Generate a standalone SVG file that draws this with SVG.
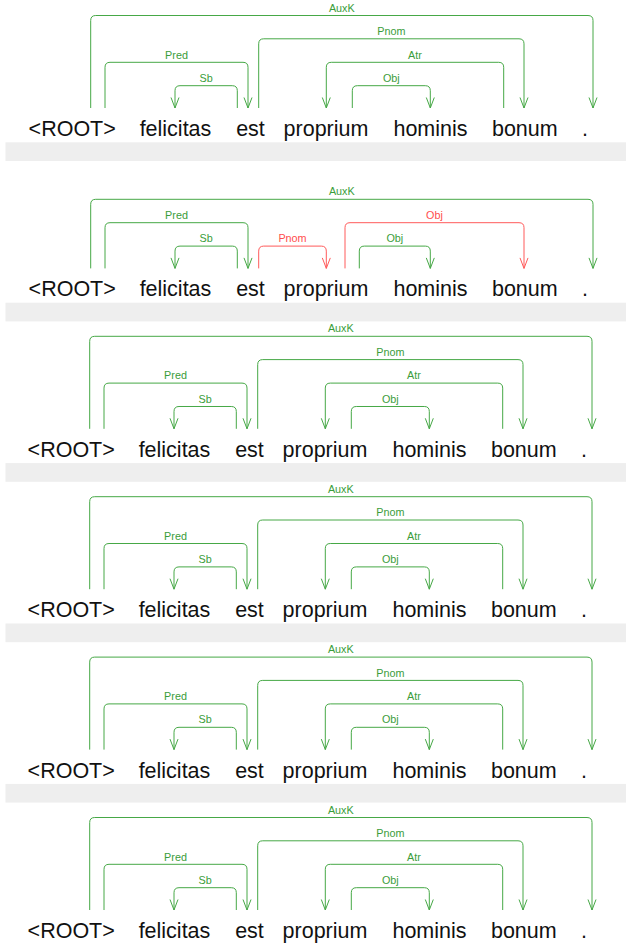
<svg xmlns="http://www.w3.org/2000/svg" width="626" height="944" viewBox="0 0 626 944">
  <style>
    .word { font-family: "Liberation Sans", Arial, sans-serif; font-size: 21.5px; fill: #111; text-anchor: middle; }
    .lbl { font-family: "Liberation Sans", Arial, sans-serif; font-size: 10.8px; text-anchor: middle; }
    .lbl.g { fill: #3a9d3a; }
    .lbl.r { fill: #ff4d4d; }
    .arc { fill: none; stroke-width: 1; }
    .arc.g { stroke: #46a846; marker-end: url(#head-g); }
    .arc.r { stroke: #ff5a5a; marker-end: url(#head-r); }
    .sep { fill: #eeeeee; }
  </style>
  <defs>
    <marker id="head-g" markerUnits="userSpaceOnUse" orient="auto" refX="0" refY="0" markerWidth="12" markerHeight="10" overflow="visible">
      <path d="M-10.5 -4 L0 0 L-10.5 4" fill="none" stroke="#46a846" stroke-width="1"/>
    </marker>
    <marker id="head-r" markerUnits="userSpaceOnUse" orient="auto" refX="0" refY="0" markerWidth="12" markerHeight="10" overflow="visible">
      <path d="M-10.5 -4 L0 0 L-10.5 4" fill="none" stroke="#ff5a5a" stroke-width="1"/>
    </marker>
  </defs>
  <rect width="626" height="944" fill="#ffffff"/>

  <!-- separators between trees -->
  <g id="separators">
    <rect class="sep" x="5.5" y="142.3" width="620.5" height="18.7"/>
    <rect class="sep" x="5.5" y="302.7" width="620.5" height="18.7"/>
    <rect class="sep" x="5.5" y="463.1" width="620.5" height="18.7"/>
    <rect class="sep" x="5.5" y="623.5" width="620.5" height="18.7"/>
    <rect class="sep" x="5.5" y="783.9" width="620.5" height="18.7"/>
  </g>

  <!-- tree 1 -->
  <g id="tree1">
    <g id="tree1-arcs">
      <path class="arc g" d="M90.7 108 V20.5 Q90.7 15.5 95.7 15.5 H588 Q593 15.5 593 20.5 V108"/>
      <text class="lbl g" x="341.8" y="11.7">AuxK</text>
      <path class="arc g" d="M258.7 108 V43.8 Q258.7 38.8 263.7 38.8 H519 Q524 38.8 524 43.8 V108"/>
      <text class="lbl g" x="391.3" y="35">Pnom</text>
      <path class="arc g" d="M105 108 V67.3 Q105 62.3 110 62.3 H243 Q248 62.3 248 67.3 V108"/>
      <text class="lbl g" x="176.5" y="58.5">Pred</text>
      <path class="arc g" d="M503.7 108 V67.3 Q503.7 62.3 498.7 62.3 H331.3 Q326.3 62.3 326.3 67.3 V108"/>
      <text class="lbl g" x="415" y="58.5">Atr</text>
      <path class="arc g" d="M237.3 108 V90.7 Q237.3 85.7 232.3 85.7 H180 Q175 85.7 175 90.7 V108"/>
      <text class="lbl g" x="206.2" y="81.9">Sb</text>
      <path class="arc g" d="M352.3 108 V90.7 Q352.3 85.7 357.3 85.7 H425.3 Q430.3 85.7 430.3 90.7 V108"/>
      <text class="lbl g" x="391.3" y="81.9">Obj</text>
    </g>
    <g id="tree1-w0"><text class="word" x="72.2" y="136">&lt;ROOT&gt;</text></g>
    <g id="tree1-w1"><text class="word" x="175.5" y="136">felicitas</text></g>
    <g id="tree1-w2"><text class="word" x="250.5" y="136">est</text></g>
    <g id="tree1-w3"><text class="word" x="326" y="136">proprium</text></g>
    <g id="tree1-w4"><text class="word" x="430.5" y="136">hominis</text></g>
    <g id="tree1-w5"><text class="word" x="524.8" y="136">bonum</text></g>
    <g id="tree1-w6"><text class="word" x="585" y="136">.</text></g>
  </g>

  <!-- tree 2 -->
  <g id="tree2" transform="translate(0 160.4)">
    <g id="tree2-arcs">
      <path class="arc g" d="M90.7 108 V43.9 Q90.7 38.9 95.7 38.9 H588 Q593 38.9 593 43.9 V108"/>
      <text class="lbl g" x="341.8" y="35.1">AuxK</text>
      <path class="arc g" d="M105 108 V67.3 Q105 62.3 110 62.3 H243 Q248 62.3 248 67.3 V108"/>
      <text class="lbl g" x="176.5" y="58.5">Pred</text>
      <path class="arc r" d="M345 108 V67.3 Q345 62.3 350 62.3 H519 Q524 62.3 524 67.3 V108"/>
      <text class="lbl r" x="434.5" y="58.5">Obj</text>
      <path class="arc g" d="M237.3 108 V90.7 Q237.3 85.7 232.3 85.7 H180 Q175 85.7 175 90.7 V108"/>
      <text class="lbl g" x="206.2" y="81.9">Sb</text>
      <path class="arc r" d="M258.7 108 V90.7 Q258.7 85.7 263.7 85.7 H321.3 Q326.3 85.7 326.3 90.7 V108"/>
      <text class="lbl r" x="292.5" y="81.9">Pnom</text>
      <path class="arc g" d="M359.3 108 V90.7 Q359.3 85.7 364.3 85.7 H425.3 Q430.3 85.7 430.3 90.7 V108"/>
      <text class="lbl g" x="394.8" y="81.9">Obj</text>
    </g>
    <g id="tree2-w0"><text class="word" x="72.2" y="136">&lt;ROOT&gt;</text></g>
    <g id="tree2-w1"><text class="word" x="175.5" y="136">felicitas</text></g>
    <g id="tree2-w2"><text class="word" x="250.5" y="136">est</text></g>
    <g id="tree2-w3"><text class="word" x="326" y="136">proprium</text></g>
    <g id="tree2-w4"><text class="word" x="430.5" y="136">hominis</text></g>
    <g id="tree2-w5"><text class="word" x="524.8" y="136">bonum</text></g>
    <g id="tree2-w6"><text class="word" x="585" y="136">.</text></g>
  </g>

  <!-- tree 3 -->
  <g id="tree3" transform="translate(-1 320.8)">
    <g id="tree3-arcs">
      <path class="arc g" d="M90.7 108 V20.5 Q90.7 15.5 95.7 15.5 H588 Q593 15.5 593 20.5 V108"/>
      <text class="lbl g" x="341.8" y="11.7">AuxK</text>
      <path class="arc g" d="M258.7 108 V43.8 Q258.7 38.8 263.7 38.8 H519 Q524 38.8 524 43.8 V108"/>
      <text class="lbl g" x="391.3" y="35">Pnom</text>
      <path class="arc g" d="M105 108 V67.3 Q105 62.3 110 62.3 H243 Q248 62.3 248 67.3 V108"/>
      <text class="lbl g" x="176.5" y="58.5">Pred</text>
      <path class="arc g" d="M503.7 108 V67.3 Q503.7 62.3 498.7 62.3 H331.3 Q326.3 62.3 326.3 67.3 V108"/>
      <text class="lbl g" x="415" y="58.5">Atr</text>
      <path class="arc g" d="M237.3 108 V90.7 Q237.3 85.7 232.3 85.7 H180 Q175 85.7 175 90.7 V108"/>
      <text class="lbl g" x="206.2" y="81.9">Sb</text>
      <path class="arc g" d="M352.3 108 V90.7 Q352.3 85.7 357.3 85.7 H425.3 Q430.3 85.7 430.3 90.7 V108"/>
      <text class="lbl g" x="391.3" y="81.9">Obj</text>
    </g>
    <g id="tree3-w0"><text class="word" x="72.2" y="136">&lt;ROOT&gt;</text></g>
    <g id="tree3-w1"><text class="word" x="175.5" y="136">felicitas</text></g>
    <g id="tree3-w2"><text class="word" x="250.5" y="136">est</text></g>
    <g id="tree3-w3"><text class="word" x="326" y="136">proprium</text></g>
    <g id="tree3-w4"><text class="word" x="430.5" y="136">hominis</text></g>
    <g id="tree3-w5"><text class="word" x="524.8" y="136">bonum</text></g>
    <g id="tree3-w6"><text class="word" x="585" y="136">.</text></g>
  </g>

  <!-- tree 4 -->
  <g id="tree4" transform="translate(-1 481.2)">
    <g id="tree4-arcs">
      <path class="arc g" d="M90.7 108 V20.5 Q90.7 15.5 95.7 15.5 H588 Q593 15.5 593 20.5 V108"/>
      <text class="lbl g" x="341.8" y="11.7">AuxK</text>
      <path class="arc g" d="M258.7 108 V43.8 Q258.7 38.8 263.7 38.8 H519 Q524 38.8 524 43.8 V108"/>
      <text class="lbl g" x="391.3" y="35">Pnom</text>
      <path class="arc g" d="M105 108 V67.3 Q105 62.3 110 62.3 H243 Q248 62.3 248 67.3 V108"/>
      <text class="lbl g" x="176.5" y="58.5">Pred</text>
      <path class="arc g" d="M503.7 108 V67.3 Q503.7 62.3 498.7 62.3 H331.3 Q326.3 62.3 326.3 67.3 V108"/>
      <text class="lbl g" x="415" y="58.5">Atr</text>
      <path class="arc g" d="M237.3 108 V90.7 Q237.3 85.7 232.3 85.7 H180 Q175 85.7 175 90.7 V108"/>
      <text class="lbl g" x="206.2" y="81.9">Sb</text>
      <path class="arc g" d="M352.3 108 V90.7 Q352.3 85.7 357.3 85.7 H425.3 Q430.3 85.7 430.3 90.7 V108"/>
      <text class="lbl g" x="391.3" y="81.9">Obj</text>
    </g>
    <g id="tree4-w0"><text class="word" x="72.2" y="136">&lt;ROOT&gt;</text></g>
    <g id="tree4-w1"><text class="word" x="175.5" y="136">felicitas</text></g>
    <g id="tree4-w2"><text class="word" x="250.5" y="136">est</text></g>
    <g id="tree4-w3"><text class="word" x="326" y="136">proprium</text></g>
    <g id="tree4-w4"><text class="word" x="430.5" y="136">hominis</text></g>
    <g id="tree4-w5"><text class="word" x="524.8" y="136">bonum</text></g>
    <g id="tree4-w6"><text class="word" x="585" y="136">.</text></g>
  </g>

  <!-- tree 5 -->
  <g id="tree5" transform="translate(-1 641.6)">
    <g id="tree5-arcs">
      <path class="arc g" d="M90.7 108 V20.5 Q90.7 15.5 95.7 15.5 H588 Q593 15.5 593 20.5 V108"/>
      <text class="lbl g" x="341.8" y="11.7">AuxK</text>
      <path class="arc g" d="M258.7 108 V43.8 Q258.7 38.8 263.7 38.8 H519 Q524 38.8 524 43.8 V108"/>
      <text class="lbl g" x="391.3" y="35">Pnom</text>
      <path class="arc g" d="M105 108 V67.3 Q105 62.3 110 62.3 H243 Q248 62.3 248 67.3 V108"/>
      <text class="lbl g" x="176.5" y="58.5">Pred</text>
      <path class="arc g" d="M503.7 108 V67.3 Q503.7 62.3 498.7 62.3 H331.3 Q326.3 62.3 326.3 67.3 V108"/>
      <text class="lbl g" x="415" y="58.5">Atr</text>
      <path class="arc g" d="M237.3 108 V90.7 Q237.3 85.7 232.3 85.7 H180 Q175 85.7 175 90.7 V108"/>
      <text class="lbl g" x="206.2" y="81.9">Sb</text>
      <path class="arc g" d="M352.3 108 V90.7 Q352.3 85.7 357.3 85.7 H425.3 Q430.3 85.7 430.3 90.7 V108"/>
      <text class="lbl g" x="391.3" y="81.9">Obj</text>
    </g>
    <g id="tree5-w0"><text class="word" x="72.2" y="136">&lt;ROOT&gt;</text></g>
    <g id="tree5-w1"><text class="word" x="175.5" y="136">felicitas</text></g>
    <g id="tree5-w2"><text class="word" x="250.5" y="136">est</text></g>
    <g id="tree5-w3"><text class="word" x="326" y="136">proprium</text></g>
    <g id="tree5-w4"><text class="word" x="430.5" y="136">hominis</text></g>
    <g id="tree5-w5"><text class="word" x="524.8" y="136">bonum</text></g>
    <g id="tree5-w6"><text class="word" x="585" y="136">.</text></g>
  </g>

  <!-- tree 6 -->
  <g id="tree6" transform="translate(-1 802)">
    <g id="tree6-arcs">
      <path class="arc g" d="M90.7 108 V20.5 Q90.7 15.5 95.7 15.5 H588 Q593 15.5 593 20.5 V108"/>
      <text class="lbl g" x="341.8" y="11.7">AuxK</text>
      <path class="arc g" d="M258.7 108 V43.8 Q258.7 38.8 263.7 38.8 H519 Q524 38.8 524 43.8 V108"/>
      <text class="lbl g" x="391.3" y="35">Pnom</text>
      <path class="arc g" d="M105 108 V67.3 Q105 62.3 110 62.3 H243 Q248 62.3 248 67.3 V108"/>
      <text class="lbl g" x="176.5" y="58.5">Pred</text>
      <path class="arc g" d="M503.7 108 V67.3 Q503.7 62.3 498.7 62.3 H331.3 Q326.3 62.3 326.3 67.3 V108"/>
      <text class="lbl g" x="415" y="58.5">Atr</text>
      <path class="arc g" d="M237.3 108 V90.7 Q237.3 85.7 232.3 85.7 H180 Q175 85.7 175 90.7 V108"/>
      <text class="lbl g" x="206.2" y="81.9">Sb</text>
      <path class="arc g" d="M352.3 108 V90.7 Q352.3 85.7 357.3 85.7 H425.3 Q430.3 85.7 430.3 90.7 V108"/>
      <text class="lbl g" x="391.3" y="81.9">Obj</text>
    </g>
    <g id="tree6-w0"><text class="word" x="72.2" y="136">&lt;ROOT&gt;</text></g>
    <g id="tree6-w1"><text class="word" x="175.5" y="136">felicitas</text></g>
    <g id="tree6-w2"><text class="word" x="250.5" y="136">est</text></g>
    <g id="tree6-w3"><text class="word" x="326" y="136">proprium</text></g>
    <g id="tree6-w4"><text class="word" x="430.5" y="136">hominis</text></g>
    <g id="tree6-w5"><text class="word" x="524.8" y="136">bonum</text></g>
    <g id="tree6-w6"><text class="word" x="585" y="136">.</text></g>
  </g>
</svg>
